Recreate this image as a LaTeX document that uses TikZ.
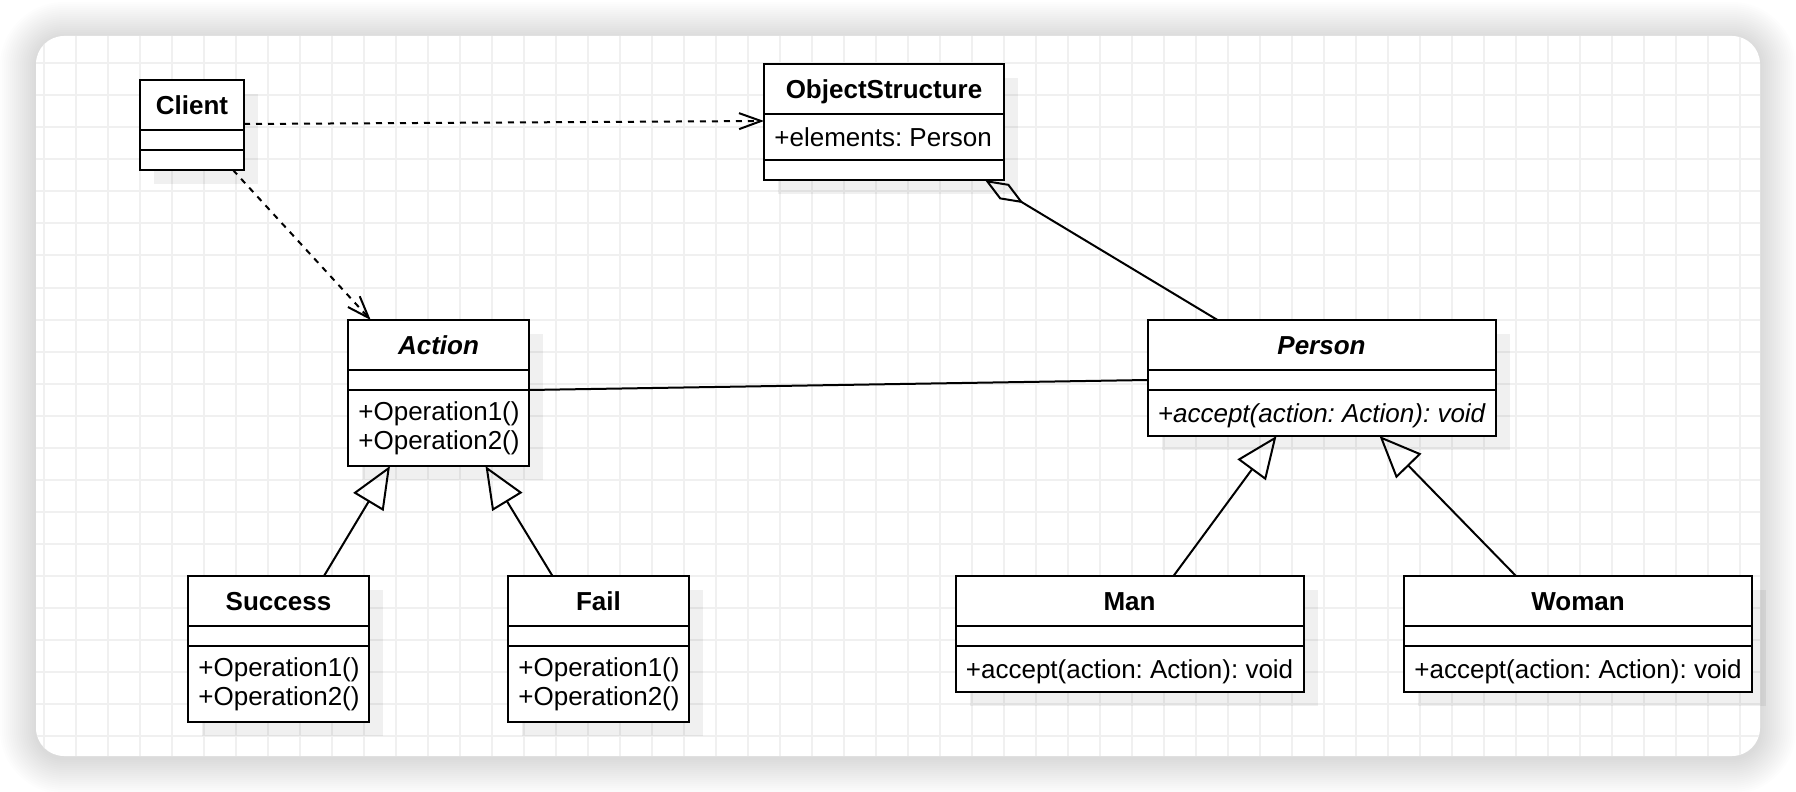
\documentclass[tikz,border=0pt]{standalone}
\usepackage{fontspec}
\setmainfont{Liberation Sans}
\usetikzlibrary{arrows.meta,calc,shadows}
\frenchspacing

\tikzset{
    cls/.style={draw, line width=1pt, fill=white, anchor=north west, inner sep=0pt, outer sep=0pt,
        drop shadow={shadow xshift=7pt, shadow yshift=-7pt, fill=black, opacity=0.06}},
    ttl/.style={font=\fontsize{13}{14.7}\selectfont\bfseries, inner sep=0pt, text height=11.7pt, text depth=2.6pt},
    attr/.style={font=\fontsize{13}{14.7}\selectfont, inner sep=0pt, anchor=west, text height=11.7pt, text depth=2.6pt},
    meth/.style={font=\fontsize{13}{14.7}\selectfont, inner sep=0pt, anchor=west, align=left},
    gridline/.style={black!6, line width=1pt},
    sep/.style={line width=1pt},
    dep/.style={line width=1pt, dash pattern=on 3pt off 3pt, -{Straight Barb[length=11pt, width=8pt]}},
    assoc/.style={line width=1pt},
    aggr/.style={line width=1pt, -{Diamond[open, length=22.5pt, width=9pt]}},
    inherit/.style={line width=1pt, -{Triangle[open, length=21pt, width=17.5pt]}},
}

\begin{document}
\begin{tikzpicture}[x=0.5pt, y=-0.5pt]
    \useasboundingbox (0,0) rectangle (1796,792);

    % Card shadow
    \foreach \i in {1,...,18} {
        \pgfmathsetmacro\rr{14+\i}
        \fill[black, opacity=0.009, rounded corners=\rr pt] ({36-2*\i},{38-2*\i}) rectangle ({1760+2*\i},{758+2*\i});
    }

    % Card with grid
    \fill[white, rounded corners=14pt] (36,36) rectangle (1760,756);
    \begin{scope}
        \clip[rounded corners=14pt] (36,36) rectangle (1760,756);
        \foreach \x in {0,...,53}
            \draw[gridline] ({44+32*\x},36) -- ({44+32*\x},756);
        \foreach \y in {0,...,21}
            \draw[gridline] (36,{63.5+32*\y}) -- (1760,{63.5+32*\y});
    \end{scope}

    % Classes
    \node[cls, minimum width=52pt, minimum height=45pt] (client) at (140,80) {};
    \node[cls, minimum width=120pt, minimum height=58pt] (os) at (764,64) {};
    \node[cls, minimum width=90.5pt, minimum height=73pt] (action) at (348,320) {};
    \node[cls, minimum width=174pt, minimum height=58pt] (person) at (1147.5,320) {};
    \node[cls, minimum width=90.5pt, minimum height=73pt] (success) at (188,576) {};
    \node[cls, minimum width=90.5pt, minimum height=73pt] (fail) at (508,576) {};
    \node[cls, minimum width=174pt, minimum height=58pt] (man) at (955.5,576) {};
    \node[cls, minimum width=174pt, minimum height=58pt] (woman) at (1404,576) {};

    % Compartments
    \foreach \c in {client,action,person,success,fail,man,woman} {
        \draw[sep] ($(\c.north west)+(0,50)$) -- ($(\c.north east)+(0,50)$);
        \draw[sep] ($(\c.north west)+(0,70)$) -- ($(\c.north east)+(0,70)$);
    }
    \draw[sep] ($(os.north west)+(0,50)$) -- ($(os.north east)+(0,50)$);
    \draw[sep] ($(os.north west)+(0,96)$) -- ($(os.north east)+(0,96)$);

    % Texts
    \node[ttl] (client-t) at ($(client.north)+(0,25)$) {Client};
    \node[ttl] (os-t) at ($(os.north)+(0,25)$) {ObjectStructure};
    \node[attr] (os-a) at ($(os.north west)+(10,73)$) {+elements: Person};
    \node[ttl] (action-t) at ($(action.north)+(0,25)$) {\itshape Action};
    \node[meth] (action-m) at ($(action.north west)+(10,108)$) {+Operation1()\\+Operation2()};
    \node[ttl] (person-t) at ($(person.north)+(0,25)$) {\itshape Person};
    \node[attr] (person-m) at ($(person.north west)+(10,93)$) {\itshape +accept(action: Action): void};
    \node[ttl] (success-t) at ($(success.north)+(0,25)$) {Success};
    \node[meth] (success-m) at ($(success.north west)+(10,108)$) {+Operation1()\\+Operation2()};
    \node[ttl] (fail-t) at ($(fail.north)+(0,25)$) {Fail};
    \node[meth] (fail-m) at ($(fail.north west)+(10,108)$) {+Operation1()\\+Operation2()};
    \node[ttl] (man-t) at ($(man.north)+(0,25)$) {Man};
    \node[attr] (man-m) at ($(man.north west)+(10,93)$) {+accept(action: Action): void};
    \node[ttl] (woman-t) at ($(woman.north)+(0,25)$) {Woman};
    \node[attr] (woman-m) at ($(woman.north west)+(10,93)$) {+accept(action: Action): void};

    % Relations
    \draw[dep] ($(client.north east)+(0,44)$) -- ($(os.north west)+(0,57)$);
    \draw[dep] ($(client.south east)+(-11,0)$) -- ($(action.north west)+(22.7,0)$);
    \draw[aggr] ($(person.north west)+(70,0)$) -- ($(os.south west)+(221,0)$);
    \draw[assoc] ($(action.north east)+(0,70)$) -- ($(person.north west)+(0,60)$);
    \draw[inherit] ($(success.north west)+(136,0)$) -- ($(action.south west)+(42,0)$);
    \draw[inherit] ($(fail.north west)+(44.5,0)$) -- ($(action.south west)+(137.5,0)$);
    \draw[inherit] ($(man.north west)+(218,0)$) -- ($(person.south west)+(129,0)$);
    \draw[inherit] ($(woman.north west)+(112,0)$) -- ($(person.south west)+(232,0)$);

\end{tikzpicture}
\end{document}
